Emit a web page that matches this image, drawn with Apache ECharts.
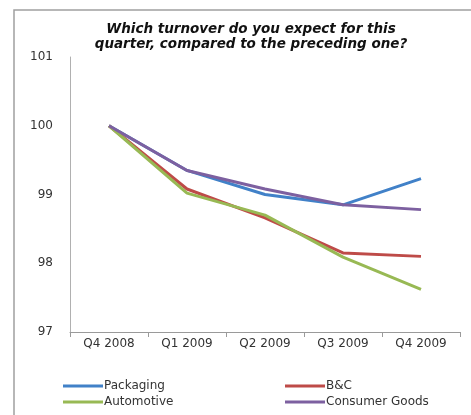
<!DOCTYPE html>
<html>
<head>
<meta charset="utf-8">
<style>html,body{margin:0;padding:0;background:#fff;}#c{width:471px;height:415px;}</style>
<script src="https://cdn.jsdelivr.net/npm/echarts@6/dist/echarts.min.js"></script>
</head>
<body>
<div id="c"></div>
<script>
var categories = ['Q4 2008', 'Q1 2009', 'Q2 2009', 'Q3 2009', 'Q4 2009'];
var packaging = [100, 99.35, 99.0, 98.85, 99.23];
var bc = [100, 99.08, 98.66, 98.15, 98.1];
var automotive = [100, 99.02, 98.7, 98.09, 97.62];
var consumerGoods = [100, 99.35, 99.08, 98.85, 98.78];
var yTicks = [97, 98, 99, 100, 101];

var FONT = '"DejaVu Sans", Verdana, sans-serif';
var chart = echarts.init(document.getElementById('c'));
function mk(name, data, color) {
  return {
    name: name, type: 'line', data: data, symbol: 'none',
    lineStyle: { color: color, width: 3 }, itemStyle: { color: color }
  };
}
chart.setOption({
  animation: false,
  backgroundColor: '#fff',
  title: {
    text: 'Which turnover do you expect for this\nquarter, compared to the preceding one?',
    left: 246, top: 17, textAlign: 'center',
    textStyle: { fontFamily: FONT, fontSize: 13.5, fontWeight: 'bold', fontStyle: 'italic', color: '#111', lineHeight: 15 }
  },
  graphic: [{
    type: 'polyline', shape: { points: [[14, 430], [14, 10], [500, 10]] }, silent: true,
    style: { fill: 'none', stroke: '#a0a0a0', lineWidth: 1.5 }
  }],
  grid: { left: 70, right: 11, top: 57, bottom: 83 },
  xAxis: {
    type: 'category', data: categories, boundaryGap: true,
    axisLine: { lineStyle: { color: '#9a9a9a', width: 1 } },
    axisTick: { show: true, length: 5, lineStyle: { color: '#9a9a9a' } },
    axisLabel: { fontFamily: FONT, fontSize: 12, color: '#333', margin: 6 }
  },
  yAxis: {
    type: 'value', min: yTicks[0], max: yTicks[yTicks.length - 1], interval: 1,
    axisLine: { show: true, lineStyle: { color: '#b0b0b0', width: 1 } },
    axisTick: { show: false },
    splitLine: { show: false },
    axisLabel: { fontFamily: FONT, fontSize: 12, color: '#333', margin: 17 }
  },
  legend: [{
    data: ['Packaging', 'Automotive'], orient: 'vertical', left: 58, top: 375,
    itemWidth: 40, itemHeight: 3, itemGap: 4, icon: 'rect',
    textStyle: { fontFamily: FONT, fontSize: 12, color: '#333', padding: [0, 0, 0, -4] }
  }, {
    data: ['B&C', 'Consumer Goods'], orient: 'vertical', left: 280, top: 375,
    itemWidth: 40, itemHeight: 3, itemGap: 4, icon: 'rect',
    textStyle: { fontFamily: FONT, fontSize: 12, color: '#333', padding: [0, 0, 0, -4] }
  }],
  series: [
    mk('Packaging', packaging, '#4181c8'),
    mk('B&C', bc, '#be4b48'),
    mk('Automotive', automotive, '#98b954'),
    mk('Consumer Goods', consumerGoods, '#7d60a0')
  ]
});
</script>
</body>
</html>
